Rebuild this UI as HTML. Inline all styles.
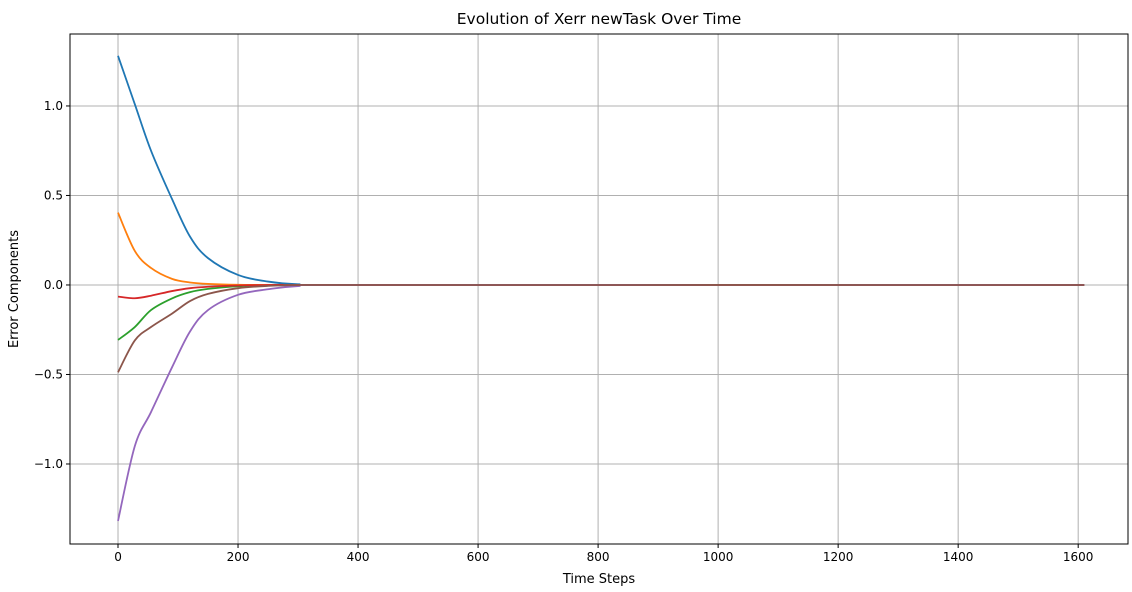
<!DOCTYPE html>
<html><head><meta charset="utf-8"><style>
body{margin:0;background:#fff;font-family:"Liberation Sans","DejaVu Sans",sans-serif;}
svg text{font-family:"DejaVu Sans","Liberation Sans",sans-serif;}
</style></head><body>
<svg id="chart" width="1132" height="587" xmlns="http://www.w3.org/2000/svg"></svg>
<script>
const xTicks=[0,200,400,600,800,1000,1200,1400,1600];
const yTicks=[-1.0,-0.5,0.0,0.5,1.0];
const colors=["#1f77b4","#ff7f0e","#2ca02c","#d62728","#9467bd","#8c564b"];
const steps=[0,28,55,90,120,150,200,250,300,400,1610];
const blue=[1.28,1.01,0.75,0.48,0.27,0.15,0.056,0.019,0.004,0,0];
const orange=[0.404,0.19,0.095,0.034,0.014,0.006,0.001,0,0,0,0];
const green=[-0.307,-0.235,-0.14,-0.075,-0.04,-0.022,-0.007,-0.002,0,0,0];
const red=[-0.065,-0.074,-0.06,-0.034,-0.018,-0.01,-0.003,0,0,0,0];
const purple=[-1.318,-0.90,-0.71,-0.46,-0.26,-0.14,-0.055,-0.024,-0.006,0,0];
const brown=[-0.488,-0.31,-0.235,-0.16,-0.09,-0.05,-0.018,-0.005,-0.001,0,0];
const series=[blue,orange,green,red,purple,brown];
const names=["blue","orange","green","red","purple","brown"];
const L=70,R=1128,T=34,B=544,xmin=-80,xmax=1683,ymin=-1.447,ymax=1.402;
const sx=v=>L+(v-xmin)/(xmax-xmin)*(R-L);
const sy=v=>B-(v-ymin)/(ymax-ymin)*(B-T);
const svg=document.getElementById('chart');const NS="http://www.w3.org/2000/svg";
function mk(t,a,p){const e=document.createElementNS(NS,t);for(const k in a)e.setAttribute(k,a[k]);(p||svg).appendChild(e);return e;}
xTicks.forEach(t=>{const x=sx(t);
const g=mk('line',{x1:x,x2:x,y1:T,y2:B,stroke:'#b0b0b0','stroke-width':1});

mk('line',{x1:x,x2:x,y1:B,y2:B+4,stroke:'#000'});
const tx=mk('text',{x:x,y:B+17,'text-anchor':'middle','font-size':12});tx.textContent=t;
});
yTicks.forEach(t=>{const y=sy(t);
const g=mk('line',{x1:L,x2:R,y1:y,y2:y,stroke:'#b0b0b0','stroke-width':1});

mk('line',{x1:L-4,x2:L,y1:y,y2:y,stroke:'#000'});
const tx=mk('text',{x:L-7,y:y+4,'text-anchor':'end','font-size':12});tx.textContent=(t<0?'\u2212':'')+Math.abs(t).toFixed(1);
});
series.forEach((s,i)=>{
let pts=steps.map((t,j)=>[sx(t),sy(s[j])]);
let d='M'+pts[0][0]+','+pts[0][1];
for(let j=0;j<pts.length-1;j++){const p0=pts[j-1]||pts[j],p1=pts[j],p2=pts[j+1],p3=pts[j+2]||p2;
const c1=[p1[0]+(p2[0]-p0[0])/6,p1[1]+(p2[1]-p0[1])/6],c2=[p2[0]-(p3[0]-p1[0])/6,p2[1]-(p3[1]-p1[1])/6];
d+=` C${c1[0]},${c1[1]} ${c2[0]},${c2[1]} ${p2[0]},${p2[1]}`;}
const p=mk('path',{d:d,fill:'none',stroke:colors[i],'stroke-width':1.8});
});
const fr=mk('rect',{x:L,y:T,width:R-L,height:B-T,fill:'none',stroke:'#000','stroke-width':1});

const ti=mk('text',{x:(L+R)/2,y:24,'text-anchor':'middle','font-size':15.5});ti.textContent='Evolution of Xerr newTask Over Time';

const xl=mk('text',{x:(L+R)/2,y:583,'text-anchor':'middle','font-size':13});xl.textContent='Time Steps';

const yl=mk('text',{x:18,y:(T+B)/2,'text-anchor':'middle','font-size':13,transform:`rotate(-90 18 ${(T+B)/2})`});yl.textContent='Error Components';

</script>
</body></html>
